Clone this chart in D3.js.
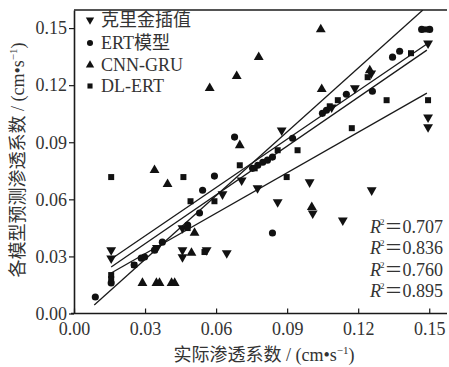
<!DOCTYPE html>
<html><head><meta charset="utf-8">
<script src="https://cdn.jsdelivr.net/npm/d3@7/dist/d3.min.js"></script>
<style>body{margin:0;background:#fff}</style>
</head><body>
<script>
// ---- data ----
const seriesNames = ["克里金插值", "ERT模型", "CNN-GRU", "DL-ERT"];
const krigingX = [0.0157,0.0157,0.035,0.0458,0.0458,0.056,0.0645,0.0458,0.0627,0.0708,0.0775,0.0877,0.086,0.0995,0.1008,0.1135,0.1257,0.1088,0.1186,0.1255,0.1495,0.1495,0.1495];
const krigingY = [0.0333,0.029,0.0345,0.0333,0.0296,0.0333,0.0317,0.0449,0.0627,0.070,0.0659,0.0963,0.0585,0.069,0.0527,0.049,0.0648,0.1084,0.1184,0.1262,0.142,0.1031,0.098];
const ertX = [0.009,0.0157,0.0254,0.0284,0.0298,0.034,0.0373,0.048,0.053,0.0543,0.0593,0.0678,0.0754,0.0776,0.0797,0.0817,0.0838,0.0838,0.0923,0.1049,0.1066,0.115,0.126,0.1345,0.1375,0.1468,0.1502];
const ertY = [0.0087,0.016,0.0255,0.0291,0.0297,0.0333,0.0375,0.0465,0.0528,0.0648,0.0722,0.0927,0.0763,0.0779,0.0795,0.0806,0.0822,0.0423,0.0921,0.1052,0.1068,0.1152,0.1168,0.1347,0.1378,0.1493,0.1493];
const cnnX = [0.0289,0.0348,0.0361,0.0412,0.0425,0.034,0.0395,0.0509,0.0496,0.0573,0.0687,0.078,0.070,0.1042,0.1046,0.1004,0.1249];
const cnnY = [0.016,0.016,0.016,0.016,0.016,0.0753,0.068,0.0423,0.0318,0.1184,0.1247,0.1347,0.0884,0.1493,0.1179,0.0559,0.1278];
const dlX = [0.0157,0.0462,0.070,0.0763,0.0492,0.0593,0.0157,0.0157,0.0254,0.048,0.0551,0.0898,0.086,0.0944,0.108,0.1114,0.1173,0.124,0.132,0.1423,0.1495,0.1482];
const dlY = [0.0717,0.0717,0.0779,0.0763,0.059,0.059,0.0202,0.0181,0.0255,0.0449,0.0323,0.0717,0.0858,0.0858,0.1089,0.1121,0.0974,0.1242,0.1121,0.1368,0.1121,0.1493];
// fitted lines (start/end values)
const fitX0 = [0.00855, 0.0157, 0.0157, 0.0157];
const fitY0 = [0.00447, 0.0286, 0.0244, 0.0213];
const fitX1 = [0.1473, 0.149, 0.149, 0.149];
const fitY1 = [0.1595, 0.1416, 0.1384, 0.1158];
const r2Labels = ["0.707", "0.836", "0.760", "0.895"];
const xTicks = [0, 0.03, 0.06, 0.09, 0.12, 0.15];
const yTicks = [0, 0.03, 0.06, 0.09, 0.12, 0.15];

// ---- chart ----
const W = 449, H = 367;
const svg = d3.select("body").append("svg").attr("width", W).attr("height", H);
const x = d3.scaleLinear().domain([0, 0.1575]).range([74, 447]);
const y = d3.scaleLinear().domain([0, 0.1595]).range([313.5, 10]);
const serif = "'Liberation Serif','DejaVu Serif',serif";
const mixed = "'Liberation Serif','Noto Sans CJK SC',serif";
const col = "#1a1a1a";

const plot = svg.append("g");
plot.append("clipPath").attr("id","clip").append("rect")
  .attr("x", 74).attr("y", 10).attr("width", 373).attr("height", 303.5);

// axes
const xAxis = d3.axisBottom(x).tickValues(xTicks).tickFormat(d3.format(".2f")).tickSizeInner(-5).tickSizeOuter(0).tickPadding(9);
const gx = svg.append("g").attr("transform", "translate(0,313.5)").call(xAxis);
const yAxis = d3.axisLeft(y).tickValues(yTicks).tickFormat(d3.format(".2f")).tickSizeInner(5).tickSizeOuter(0).tickPadding(2);
const gy = svg.append("g").attr("transform", "translate(74,0)").call(yAxis);
[gx, gy].forEach(g => {
  g.select(".domain").attr("stroke", col).attr("stroke-width", 1.6);
  g.selectAll(".tick line").attr("stroke", col).attr("stroke-width", 1.2);
  g.selectAll("text").attr("font-family", serif).attr("font-size", 18).attr("fill", "#333");
});
gx.select(".domain").attr("d", "M71,0H447");
// top frame
svg.append("line").attr("x1", 74).attr("x2", 447).attr("y1", y(0.1595)).attr("y2", y(0.1595))
  .attr("stroke", col).attr("stroke-width", 1.6);

// fit lines
const fits = fitX0.map((d, i) => ({x0: d, y0: fitY0[i], x1: fitX1[i], y1: fitY1[i]}));
plot.append("g").attr("clip-path", "url(#clip)").selectAll("line").data(fits).join("line")
  .attr("x1", d => x(d.x0)).attr("y1", d => y(d.y0))
  .attr("x2", d => x(d.x1)).attr("y2", d => y(d.y1))
  .attr("stroke", col).attr("stroke-width", 1.3);

// markers
const symDown = d3.symbol().type(d3.symbolTriangle).size(42)();
const symUp = d3.symbol().type(d3.symbolTriangle).size(42)();
const symCircle = d3.symbol().type(d3.symbolCircle).size(40)();
const symSquare = d3.symbol().type(d3.symbolSquare).size(36)();
const series = [
  {xs: krigingX, ys: krigingY, path: symDown, rot: 180},
  {xs: ertX, ys: ertY, path: symCircle, rot: 0},
  {xs: cnnX, ys: cnnY, path: symUp, rot: 0},
  {xs: dlX, ys: dlY, path: symSquare, rot: 0}
];
series.forEach(s => {
  plot.append("g").selectAll("path").data(s.xs.map((v, i) => [v, s.ys[i]])).join("path")
    .attr("d", s.path)
    .attr("transform", d => `translate(${x(d[0])},${y(d[1])}) rotate(${s.rot})`)
    .attr("fill", "#111");
});

// legend
const legY = [20, 43, 65, 86];
const leg = svg.append("g");
series.forEach((s, i) => {
  leg.append("path").attr("d", s.path).attr("fill", "#111")
    .attr("transform", `translate(90,${legY[i]}) rotate(${s.rot}) scale(0.85)`);
  leg.append("text").attr("x", 101).attr("y", legY[i] + 6)
    .attr("font-family", mixed).attr("font-size", 18).attr("fill", "#333")
    .text(seriesNames[i]);
});

// R^2 labels
const r2Y = [233, 254, 276, 297];
r2Labels.forEach((v, i) => {
  const t = svg.append("text").attr("x", 443).attr("y", r2Y[i]).attr("text-anchor", "end")
    .attr("font-family", mixed).attr("font-size", 18).attr("fill", "#333");
  t.append("tspan").attr("font-style", "italic").text("R");
  t.append("tspan").attr("font-size", 9).attr("dy", -8).attr("dx", -1).text("2");
  t.append("tspan").attr("dy", 8).text("＝" + v);
});

// axis titles
const xt = svg.append("text").attr("x", 264).attr("y", 361).attr("text-anchor", "middle")
  .attr("font-family", mixed).attr("font-size", 18).attr("fill", "#333");
xt.append("tspan").text("实际渗透系数 / (cm•s");
xt.append("tspan").attr("font-size", 11).attr("dy", -7).text("−1");
xt.append("tspan").attr("dy", 7).text(")");

const yt = svg.append("text").attr("transform", "translate(24,160) rotate(-90)").attr("text-anchor", "middle")
  .attr("font-family", mixed).attr("font-size", 18).attr("fill", "#333");
yt.append("tspan").text("各模型预测渗透系数 / (cm•s");
yt.append("tspan").attr("font-size", 11).attr("dy", -7).text("−1");
yt.append("tspan").attr("dy", 7).text(")");
</script>
</body></html>
